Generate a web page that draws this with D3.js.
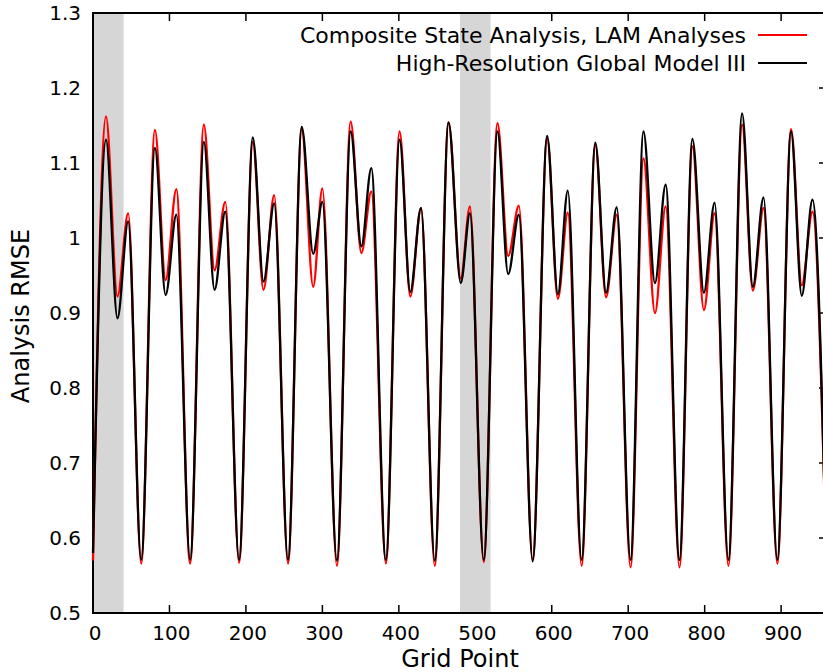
<!DOCTYPE html>
<html>
  <head>
    <meta charset="utf-8">
    <script src="https://d3js.org/d3.v7.min.js"></script>
    <style>
      body { margin: 0; background: white; }
      svg { display: block; font-family: "DejaVu Sans", sans-serif; }
    </style>
  </head>
  <body>
    <div id="chart"></div>
    <script>
        // grid points where the curves turn (trough, main peak, dip, second peak per cycle)
        var gridPoints = [0, 17, 32, 46,  63, 81, 95, 109,  127, 145, 159, 173,  191, 209, 223, 237,
                          255, 273, 288, 300,  319, 337, 351, 364,  383, 401, 415, 429,  447, 465, 481, 493,
                          511, 529, 543, 557,  575, 594, 608, 621,  639, 657, 671, 685,  703, 720, 735, 749,
                          767, 784, 799, 813,  831, 849, 863, 877,  895, 913, 927, 941,  959]

        var composite = [0.570, 1.162, 0.922, 1.033,  0.566, 1.144, 0.944, 1.065,  0.566, 1.151, 0.957, 1.048,
                         0.567, 1.128, 0.931, 1.057,  0.566, 1.145, 0.935, 1.066,  0.563, 1.155, 0.980, 1.062,
                         0.566, 1.142, 0.922, 1.040,  0.563, 1.154, 0.946, 1.042,  0.568, 1.153, 0.976, 1.043,
                         0.572, 1.133, 0.919, 1.034,  0.563, 1.124, 0.921, 1.031,  0.561, 1.106, 0.900, 1.042,
                         0.561, 1.122, 0.904, 1.033,  0.563, 1.151, 0.930, 1.040,  0.566, 1.145, 0.937, 1.035,  0.566]

        var hrgm = [0.580, 1.131, 0.893, 1.022,  0.571, 1.120, 0.924, 1.031,  0.571, 1.128, 0.931, 1.035,
                    0.571, 1.134, 0.942, 1.046,  0.571, 1.148, 0.979, 1.048,  0.570, 1.142, 0.989, 1.093,
                    0.571, 1.131, 0.928, 1.040,  0.570, 1.154, 0.940, 1.033,  0.571, 1.142, 0.952, 1.031,
                    0.569, 1.136, 0.925, 1.063,  0.571, 1.127, 0.927, 1.041,  0.571, 1.142, 0.940, 1.071,
                    0.571, 1.132, 0.927, 1.047,  0.571, 1.166, 0.935, 1.054,  0.571, 1.142, 0.923, 1.051,  0.571]

        var shaded = [[0, 40], [480, 520]]
        var xTicks = [0, 100, 200, 300, 400, 500, 600, 700, 800, 900]
        var yTicks = [0.5, 0.6, 0.7, 0.8, 0.9, 1, 1.1, 1.2, 1.3]
        var seriesNames = ["Composite State Analysis, LAM Analyses", "High-Resolution Global Model III"]
        var seriesColors = ["#ff0000", "#000000"]

        var width = 823, height = 672
        var plotL = 93, plotR = 827, plotT = 13, plotB = 613
        var tickLen = 8

        var x = d3.scaleLinear().domain([0, 960]).range([plotL, plotR])
        var y = d3.scaleLinear().domain([0.5, 1.3]).range([plotB, plotT])

        var svg = d3.select("#chart").append("svg")
            .attr("width", width)
            .attr("height", height)

        // inward ticks on all four sides
        var ticks = svg.append("g").attr("stroke", "black").attr("stroke-width", 1.5)
        ticks.selectAll(".xb").data(xTicks).enter().append("line")
            .attr("x1", d => x(d)).attr("x2", d => x(d))
            .attr("y1", plotB).attr("y2", plotB - tickLen)
        ticks.selectAll(".xt").data(xTicks).enter().append("line")
            .attr("x1", d => x(d)).attr("x2", d => x(d))
            .attr("y1", plotT).attr("y2", plotT + tickLen)
        ticks.selectAll(".yl").data(yTicks).enter().append("line")
            .attr("x1", plotL).attr("x2", plotL + tickLen)
            .attr("y1", d => y(d)).attr("y2", d => y(d))
        ticks.selectAll(".yr").data(yTicks).enter().append("line")
            .attr("x1", plotR).attr("x2", plotR - tickLen)
            .attr("y1", d => y(d)).attr("y2", d => y(d))

        // grey bands
        svg.selectAll(".band").data(shaded).enter().append("rect")
            .attr("x", d => x(d[0]))
            .attr("width", d => x(d[1]) - x(d[0]))
            .attr("y", plotT)
            .attr("height", plotB - plotT)
            .attr("fill", "#d6d6d6")

        svg.append("rect")
            .attr("x", plotL).attr("y", plotT)
            .attr("width", plotR - plotL).attr("height", plotB - plotT)
            .attr("fill", "none").attr("stroke", "black").attr("stroke-width", 2)

        // tick labels
        svg.selectAll(".xl").data(xTicks).enter().append("text")
            .attr("x", d => x(d) + 2).attr("y", 640)
            .attr("text-anchor", "middle")
            .attr("font-size", 20)
            .text(d => d)
        svg.selectAll(".ylab").data(yTicks).enter().append("text")
            .attr("x", plotL - 12).attr("y", d => y(d))
            .attr("dy", "0.36em")
            .attr("text-anchor", "end")
            .attr("font-size", 20)
            .text(d => d3.format("")(d))

        svg.append("text")
            .attr("x", 460).attr("y", 667)
            .attr("text-anchor", "middle")
            .attr("font-size", 24)
            .text("Grid Point")
        svg.append("text")
            .attr("transform", "translate(29,316) rotate(-90)")
            .attr("text-anchor", "middle")
            .attr("font-size", 24)
            .text("Analysis RMSE")

        // curves
        var line = d3.line()
            .x(d => x(d[0]))
            .y(d => y(d[1]))
            .curve(d3.curveMonotoneX)

        var seriesData = [composite, hrgm]
        seriesData.forEach(function(vals, i) {
            svg.append("path")
                .datum(gridPoints.map((g, j) => [g, vals[j]]))
                .attr("d", line)
                .attr("fill", "none")
                .attr("stroke", seriesColors[i])
                .attr("stroke-width", 2.3)
                .attr("stroke-linejoin", "round")
        })

        // legend
        var legend = svg.append("g")
        seriesNames.forEach(function(name, i) {
            var ly = 35 + i * 28
            legend.append("text")
                .attr("x", 746).attr("y", ly)
                .attr("dy", "0.36em")
                .attr("text-anchor", "end")
                .attr("font-size", 22)
                .text(name)
            legend.append("line")
                .attr("x1", 758).attr("x2", 807)
                .attr("y1", ly).attr("y2", ly)
                .attr("stroke", seriesColors[i])
                .attr("stroke-width", 2)
        })
    </script>
  </body>
</html>
